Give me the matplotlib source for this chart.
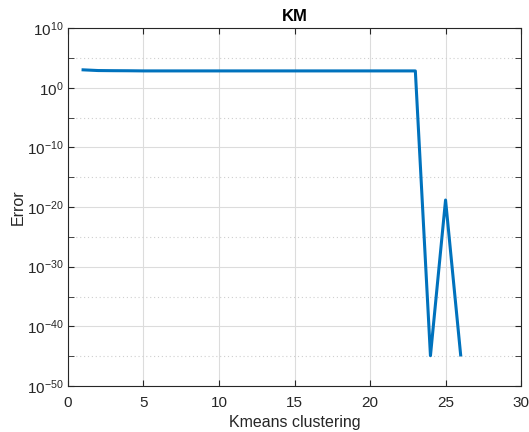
import numpy as np
import matplotlib
matplotlib.use('Agg')
import matplotlib.pyplot as plt
from matplotlib.ticker import FixedLocator

plt.rcParams['font.family'] = ['Liberation Sans', 'DejaVu Sans']
plt.rcParams['mathtext.fontset'] = 'custom'
plt.rcParams['mathtext.rm'] = 'Liberation Sans'
plt.rcParams['mathtext.it'] = 'Liberation Sans:italic'

# Data
k = np.arange(1, 27)
err = np.array([1000, 760, 720, 700] + [660] * 19 + [1.2e-45, 1.5e-19, 1.6e-45])

fig = plt.figure(figsize=(5.29, 4.32), dpi=100)
ax = fig.add_axes([0.1285, 0.1065, 0.8565, 0.8285])

ax.semilogy(k, err, color='#0072BD', linewidth=2.2)

ax.set_xlim(0, 30)
ax.set_ylim(1e-50, 1e10)
ax.set_xticks([0, 5, 10, 15, 20, 25, 30])
ax.yaxis.set_major_locator(FixedLocator([10.0 ** e for e in range(-50, 11, 10)]))
ax.yaxis.set_minor_locator(FixedLocator([10.0 ** e for e in range(-45, 10, 10)]))
ax.yaxis.set_minor_formatter(plt.NullFormatter())

ax.grid(True, which='major', color='#dcdcdc', linewidth=0.8)
ax.grid(True, which='minor', axis='y', color='#cfcfcf', linestyle=(0, (1, 2.5)), linewidth=0.8)
ax.set_axisbelow(True)

ax.tick_params(which='both', direction='in', top=True, right=True, colors='#262626',
               labelsize=11, length=4)
ax.tick_params(axis='x', pad=7)
ax.tick_params(axis='y', pad=3)
for s in ax.spines.values():
    s.set_color('#262626')
    s.set_linewidth(0.8)

ax.set_xlabel('Kmeans clustering', fontsize=11.5, color='#262626', labelpad=4)
ax.set_ylabel('Error', fontsize=11.5, color='#262626', labelpad=1)
ax.set_title('KM', fontsize=12, fontweight='bold', pad=5)

plt.savefig('out.png', dpi=100)
